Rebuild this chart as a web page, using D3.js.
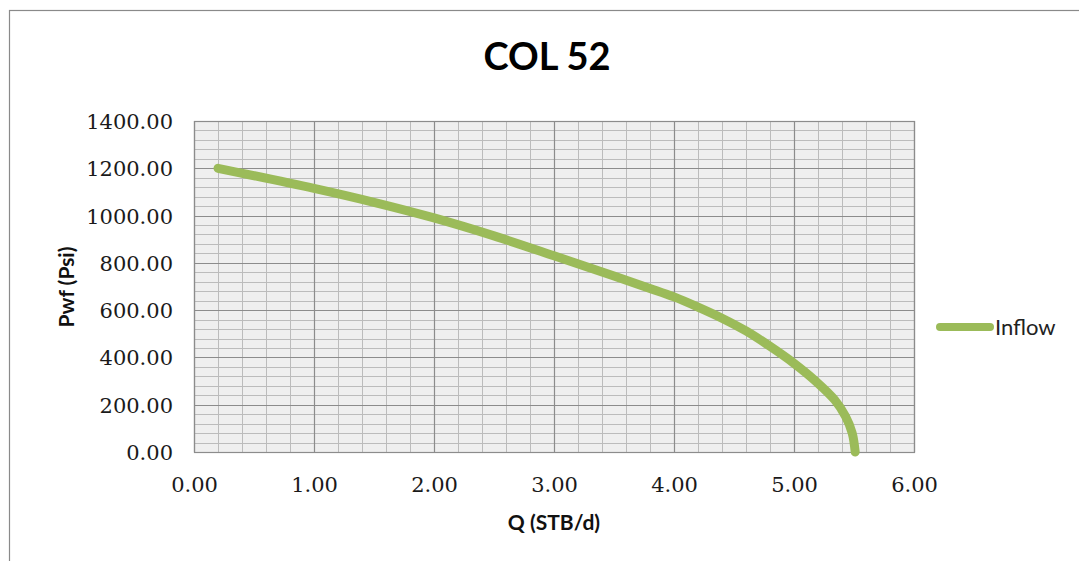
<!DOCTYPE html>
<html>
<head>
<meta charset="utf-8">
<script src="https://cdn.jsdelivr.net/npm/d3@7"></script>
<style>
  html, body { margin: 0; padding: 0; background: #ffffff; }
  svg { display: block; }
</style>
</head>
<body>
<svg id="chart" width="1079" height="561"></svg>
<script>
// ---- data ----
const title = "COL 52";
const seriesName = "Inflow";
const qValues = [0.20, 1.00, 1.50, 2.00, 2.50, 3.00, 3.50, 3.80, 4.00, 4.20, 4.40, 4.60, 4.80, 5.00, 5.18, 5.34, 5.43, 5.485, 5.51];
const pwfValues = [1200, 1115, 1056, 990, 914, 830, 744, 692, 656, 613, 566, 512, 447, 375, 300, 220, 150, 80, 0];
const xTicks = [0, 1, 2, 3, 4, 5, 6];
const yTicks = [0, 200, 400, 600, 800, 1000, 1200, 1400];
const xLabel = "Q (STB/d)";
const yLabel = "Pwf (Psi)";

const svg = d3.select("#chart");
const W = 1079, H = 561;
const plot = { left: 194, right: 914, top: 121, bottom: 452 };

const x = d3.scaleLinear().domain([0, 6]).range([plot.left, plot.right]);
const y = d3.scaleLinear().domain([0, 1400]).range([plot.bottom, plot.top]);

// outer chart border
svg.append("rect")
  .attr("x", 9.5).attr("y", 10.5)
  .attr("width", W + 10).attr("height", H + 10)
  .attr("fill", "#ffffff").attr("stroke", "#8a8a8a").attr("stroke-width", 1.2);

// plot background
svg.append("rect")
  .attr("x", plot.left).attr("y", plot.top)
  .attr("width", plot.right - plot.left).attr("height", plot.bottom - plot.top)
  .attr("fill", "#efefef");

// minor gridlines
const g = svg.append("g");
const xMinor = d3.range(0, 6.0001, 0.2);
const yMinor = d3.range(0, 1400.0001, 40);
g.selectAll(".vminor").data(xMinor).join("line")
  .attr("x1", d => Math.round(x(d)) + 0.5).attr("x2", d => Math.round(x(d)) + 0.5)
  .attr("y1", plot.top).attr("y2", plot.bottom)
  .attr("stroke", "#bcbcbc").attr("stroke-width", 1);
g.selectAll(".hminor").data(yMinor).join("line")
  .attr("y1", d => Math.round(y(d)) + 0.5).attr("y2", d => Math.round(y(d)) + 0.5)
  .attr("x1", plot.left).attr("x2", plot.right)
  .attr("stroke", "#bcbcbc").attr("stroke-width", 1);

// major gridlines
g.selectAll(".vmajor").data(xTicks).join("line")
  .attr("x1", d => Math.round(x(d)) + 0.5).attr("x2", d => Math.round(x(d)) + 0.5)
  .attr("y1", plot.top).attr("y2", plot.bottom)
  .attr("stroke", "#8c8c8c").attr("stroke-width", 1.2);
g.selectAll(".hmajor").data(yTicks).join("line")
  .attr("y1", d => Math.round(y(d)) + 0.5).attr("y2", d => Math.round(y(d)) + 0.5)
  .attr("x1", plot.left).attr("x2", plot.right)
  .attr("stroke", "#8c8c8c").attr("stroke-width", 1.2);

// plot border
svg.append("rect")
  .attr("x", plot.left + 0.5).attr("y", plot.top + 0.5)
  .attr("width", plot.right - plot.left).attr("height", plot.bottom - plot.top)
  .attr("fill", "none").attr("stroke", "#8c8c8c").attr("stroke-width", 1.2);

// axes (labels only, using d3 axis)
const fmt = d3.format(".2f");
const xAxis = svg.append("g")
  .attr("transform", `translate(0,${plot.bottom})`)
  .call(d3.axisBottom(x).tickValues(xTicks).tickFormat(fmt).tickSize(0).tickPadding(0));
xAxis.select(".domain").remove();
xAxis.selectAll("text")
  .attr("y", 40).attr("dy", null)
  .attr("font-family", "'DejaVu Serif', serif").attr("font-size", 21)
  .attr("fill", "#1a1a1a");

const yAxis = svg.append("g")
  .attr("transform", `translate(173,0)`)
  .call(d3.axisLeft(y).tickValues(yTicks).tickFormat(fmt).tickSize(0).tickPadding(0));
yAxis.select(".domain").remove();
yAxis.selectAll("text")
  .attr("x", 0).attr("dy", "0.36em")
  .attr("font-family", "'DejaVu Serif', serif").attr("font-size", 21)
  .attr("fill", "#1a1a1a");

// series line
const line = d3.line()
  .x((d, i) => x(qValues[i]))
  .y((d, i) => y(pwfValues[i]))
  .curve(d3.curveCatmullRom.alpha(0.5));
svg.append("path")
  .datum(qValues)
  .attr("d", line)
  .attr("fill", "none")
  .attr("stroke", "#9bbb59")
  .attr("stroke-width", 9)
  .attr("stroke-linecap", "round")
  .attr("stroke-linejoin", "round");

// title
svg.append("text")
  .attr("x", 547).attr("y", 70)
  .attr("text-anchor", "middle")
  .attr("font-family", "Lato, 'Open Sans', sans-serif")
  .attr("font-weight", "bold").attr("font-size", 38)
  .attr("fill", "#000")
  .text(title);

// axis titles
svg.append("text")
  .attr("x", 554).attr("y", 530)
  .attr("text-anchor", "middle")
  .attr("font-family", "Lato, 'Open Sans', sans-serif")
  .attr("font-weight", "bold").attr("font-size", 21)
  .attr("fill", "#111")
  .text(xLabel);

svg.append("text")
  .attr("transform", `translate(74,287) rotate(-90)`)
  .attr("text-anchor", "middle")
  .attr("font-family", "Lato, 'Open Sans', sans-serif")
  .attr("font-weight", "bold").attr("font-size", 21)
  .attr("fill", "#111")
  .text(yLabel);

// legend
const lg = svg.append("g");
lg.append("line")
  .attr("x1", 940).attr("x2", 990)
  .attr("y1", 327).attr("y2", 327)
  .attr("stroke", "#9bbb59").attr("stroke-width", 8)
  .attr("stroke-linecap", "round");
lg.append("text")
  .attr("x", 995).attr("y", 335)
  .attr("font-family", "Lato, 'Open Sans', sans-serif")
  .attr("font-size", 22)
  .attr("fill", "#222")
  .text(seriesName);
</script>
</body>
</html>
